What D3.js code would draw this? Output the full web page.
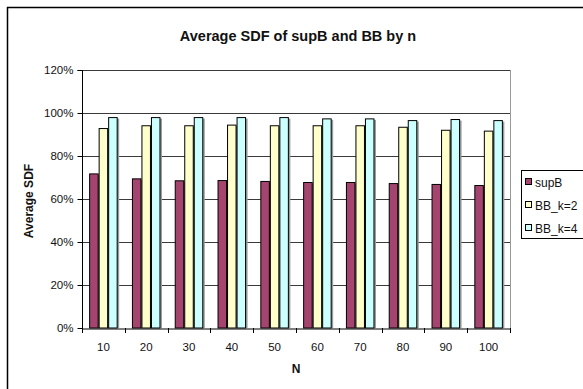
<!DOCTYPE html>
<html>
<head>
<meta charset="utf-8">
<script src="https://cdn.jsdelivr.net/npm/d3@7"></script>
<style>
  html, body { margin: 0; padding: 0; background: #fff; }
  svg { display: block; font-family: "Liberation Sans", Arial, sans-serif; }
</style>
</head>
<body>
<svg id="chart" width="583" height="389"></svg>
<script>
// Average SDF (%) per problem size n
const categories = [10, 20, 30, 40, 50, 60, 70, 80, 90, 100];
const supB   = [71.9, 69.6, 68.7, 68.8, 68.4, 67.9, 67.9, 67.4, 67.0, 66.5];
const bbK2   = [93.0, 94.3, 94.3, 94.6, 94.3, 94.3, 94.3, 93.6, 92.2, 91.8];
const bbK4   = [98.1, 98.1, 98.1, 98.1, 98.1, 97.5, 97.5, 96.7, 97.2, 96.7];
const seriesNames = ["supB", "BB_k=2", "BB_k=4"];
const seriesColors = ["#a5456f", "#ffffcc", "#ccffff"];
const yTicks = [0, 20, 40, 60, 80, 100, 120];

const series = [supB, bbK2, bbK4];
const svg = d3.select("#chart");

const plot = { left: 82, right: 510, top: 70, bottom: 328 };

// outer chart frame
svg.append("rect")
  .attr("x", 7.5).attr("y", 7.5)
  .attr("width", 620).attr("height", 420)
  .attr("fill", "#fff").attr("stroke", "#000").attr("stroke-width", 1.5);

const x = d3.scaleBand().domain(categories).range([plot.left, plot.right]);
const groupW = x.bandwidth();
const barW = groupW / 4.5;
const xInner = d3.scaleBand().domain(d3.range(series.length))
  .range([barW * 0.75, barW * 0.75 + barW * 3]);
const y = d3.scaleLinear().domain([0, 120]).range([plot.bottom, plot.top]);

// gridlines
svg.append("g").selectAll("line").data(yTicks.filter(t => t > 0)).join("line")
  .attr("x1", plot.left).attr("x2", plot.right)
  .attr("y1", d => y(d) + 0.5).attr("y2", d => y(d) + 0.5)
  .attr("stroke", "#3a3a3a").attr("stroke-width", 1);

// plot area right edge
svg.append("line")
  .attr("x1", plot.right + 0.5).attr("x2", plot.right + 0.5)
  .attr("y1", plot.top).attr("y2", plot.bottom)
  .attr("stroke", "#9a9a9a").attr("stroke-width", 1);

// bars
const groups = svg.append("g").selectAll("g").data(categories).join("g")
  .attr("transform", d => `translate(${x(d)},0)`);

groups.each(function (c, i) {
  const g = d3.select(this);
  series.forEach((s, k) => {
    const bx = xInner(k);
    g.append("rect")
      .attr("x", bx + 1.5).attr("y", y(s[i]) + 1.5)
      .attr("width", barW).attr("height", plot.bottom - y(s[i]) - 1.5)
      .attr("fill", "#9a9a9a");
    g.append("rect")
      .attr("x", bx + 0.5).attr("y", y(s[i]) + 0.5)
      .attr("width", barW - 1).attr("height", plot.bottom - y(s[i]) - 0.5)
      .attr("fill", seriesColors[k]).attr("stroke", "#000").attr("stroke-width", 1);
  });
});

// y axis
const yAxis = svg.append("g")
  .attr("transform", `translate(${plot.left + 0.5},0)`)
  .call(d3.axisLeft(y).tickValues(yTicks).tickFormat(d => d + "%").tickSize(5).tickPadding(4));
yAxis.select(".domain").attr("stroke", "#000").attr("d", `M-5,${plot.top + 0.5}H0V${plot.bottom + 0.5}`);
yAxis.selectAll(".tick line").attr("stroke", "#000");
yAxis.selectAll(".tick text").attr("font-size", 11.5).attr("fill", "#111")
  .attr("font-family", "'Liberation Sans', Arial, sans-serif");

// x axis
const xAxis = svg.append("g")
  .attr("transform", `translate(0,${plot.bottom + 0.5})`)
  .call(d3.axisBottom(x).tickSize(0).tickPadding(14));
xAxis.select(".domain").attr("stroke", "#000");
xAxis.selectAll(".tick text").attr("font-size", 11.5).attr("fill", "#111")
  .attr("font-family", "'Liberation Sans', Arial, sans-serif");
// boundary ticks between categories
svg.append("g").selectAll("line")
  .data(categories.map(c => x(c)).concat([plot.right]))
  .join("line")
  .attr("x1", d => Math.round(d) + 0.5).attr("x2", d => Math.round(d) + 0.5)
  .attr("y1", plot.bottom).attr("y2", plot.bottom + 5)
  .attr("stroke", "#000");

// titles
svg.append("text")
  .attr("x", 298).attr("y", 41)
  .attr("text-anchor", "middle")
  .attr("font-size", 14.5).attr("font-weight", "bold").attr("fill", "#111")
  .text("Average SDF of supB and BB by n");

svg.append("text")
  .attr("transform", "translate(33,201) rotate(-90)")
  .attr("text-anchor", "middle")
  .attr("font-size", 12).attr("font-weight", "bold").attr("fill", "#111")
  .text("Average SDF");

svg.append("text")
  .attr("x", (plot.left + plot.right) / 2).attr("y", 373)
  .attr("text-anchor", "middle")
  .attr("font-size", 12).attr("font-weight", "bold").attr("fill", "#111")
  .text("N");

// legend
const legend = svg.append("g").attr("transform", "translate(521,170)");
legend.append("rect")
  .attr("x", 0.5).attr("y", 0.5).attr("width", 62).attr("height", 68)
  .attr("fill", "#fff").attr("stroke", "#000").attr("stroke-width", 1);
const items = legend.selectAll("g.item").data(seriesNames).join("g")
  .attr("class", "item")
  .attr("transform", (d, i) => `translate(4,${12 + i * 23})`);
items.append("rect")
  .attr("x", 0.5).attr("y", -3.5).attr("width", 6).attr("height", 6)
  .attr("fill", (d, i) => seriesColors[i]).attr("stroke", "#000").attr("stroke-width", 1);
items.append("text")
  .attr("x", 10).attr("y", 4.5)
  .attr("font-size", 12).attr("fill", "#111")
  .text(d => d);
</script>
</body>
</html>
